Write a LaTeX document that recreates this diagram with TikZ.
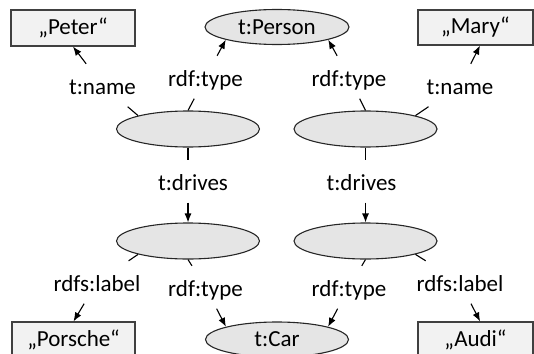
\documentclass[tikz,border=0pt]{standalone}
\usepackage{fontspec}
\setmainfont{Carlito}
\usetikzlibrary{shapes.geometric,arrows.meta}

\begin{document}
\begin{tikzpicture}[x=1pt, y=-1pt, font=\fontsize{23}{28}\selectfont,
    res/.style={ellipse, draw=black!85, fill=black!10, line width=1.1pt,
      minimum width=143pt, minimum height=36pt, inner sep=0pt},
    lit/.style={rectangle, draw=black!75, fill=black!5, line width=1.1pt,
      minimum height=36pt, inner sep=0pt},
    prop/.style={inner xsep=2pt, inner ysep=8pt, text height=22pt,
      text depth=4.5pt, anchor=base},
    lnk/.style={line width=1.1pt},
    arr/.style={lnk, -{Latex[length=9pt,width=7pt]}}]
  \useasboundingbox (0,0) rectangle (534,353);

  % resources and literals
  \node[lit, minimum width=124pt] (peter) at (73,28) {„Peter“};
  \node[res, minimum width=144pt, minimum height=35pt] (person) at (277,27) {t:Person};
  \node[lit, minimum width=115pt, minimum height=35pt] (mary) at (475.5,27.5) {„Mary“};
  \node[res] (x1) at (188,129) {};
  \node[res] (x2) at (365.5,129) {};
  \node[res] (y1) at (188,241) {};
  \node[res] (y2) at (365.5,241) {};
  \node[lit, minimum width=123pt] (porsche) at (73.5,340) {„Porsche“};
  \node[res, minimum height=35pt] (car) at (277,339.5) {t:Car};
  \node[lit, minimum width=115pt] (audi) at (475.5,340) {„Audi“};

  % property labels
  \node[prop] (p1) at (102.5,94) {t:name};
  \node[prop] (p2) at (205.5,86) {rdf:type};
  \node[prop] (p3) at (349,86) {rdf:type};
  \node[prop] (p4) at (460,94) {t:name};
  \node[prop] (d1) at (193,190) {t:drives};
  \node[prop] (d2) at (361.5,190) {t:drives};
  \node[prop] (p5) at (97,291) {rdfs:label};
  \node[prop] (p6) at (205.5,296) {rdf:type};
  \node[prop] (p7) at (349,296) {rdf:type};
  \node[prop] (p8) at (460,291) {rdfs:label};

  % edges, split by their labels
  \foreach \s/\l/\t in {x1.165/p1/peter.south, x1.north/p2/person.194,
      x2.north/p3/person.346, x2.15/p4/mary.-76,
      y1.195/p5/porsche.north, y1.south/p6/car.166,
      y2.south/p7/car.14, y2.345/p8/audi.76} {
    \draw[lnk] (\s) -- (\l);
    \draw[arr] (\l) -- (\t);
  }
  \draw[lnk] (x1.south) -- (x1.south |- d1.north);
  \draw[arr] (x1.south |- d1.south) -- (y1.north);
  \draw[lnk] (x2.south) -- (x2.south |- d2.north);
  \draw[arr] (x2.south |- d2.south) -- (y2.north);
\end{tikzpicture}
\end{document}
